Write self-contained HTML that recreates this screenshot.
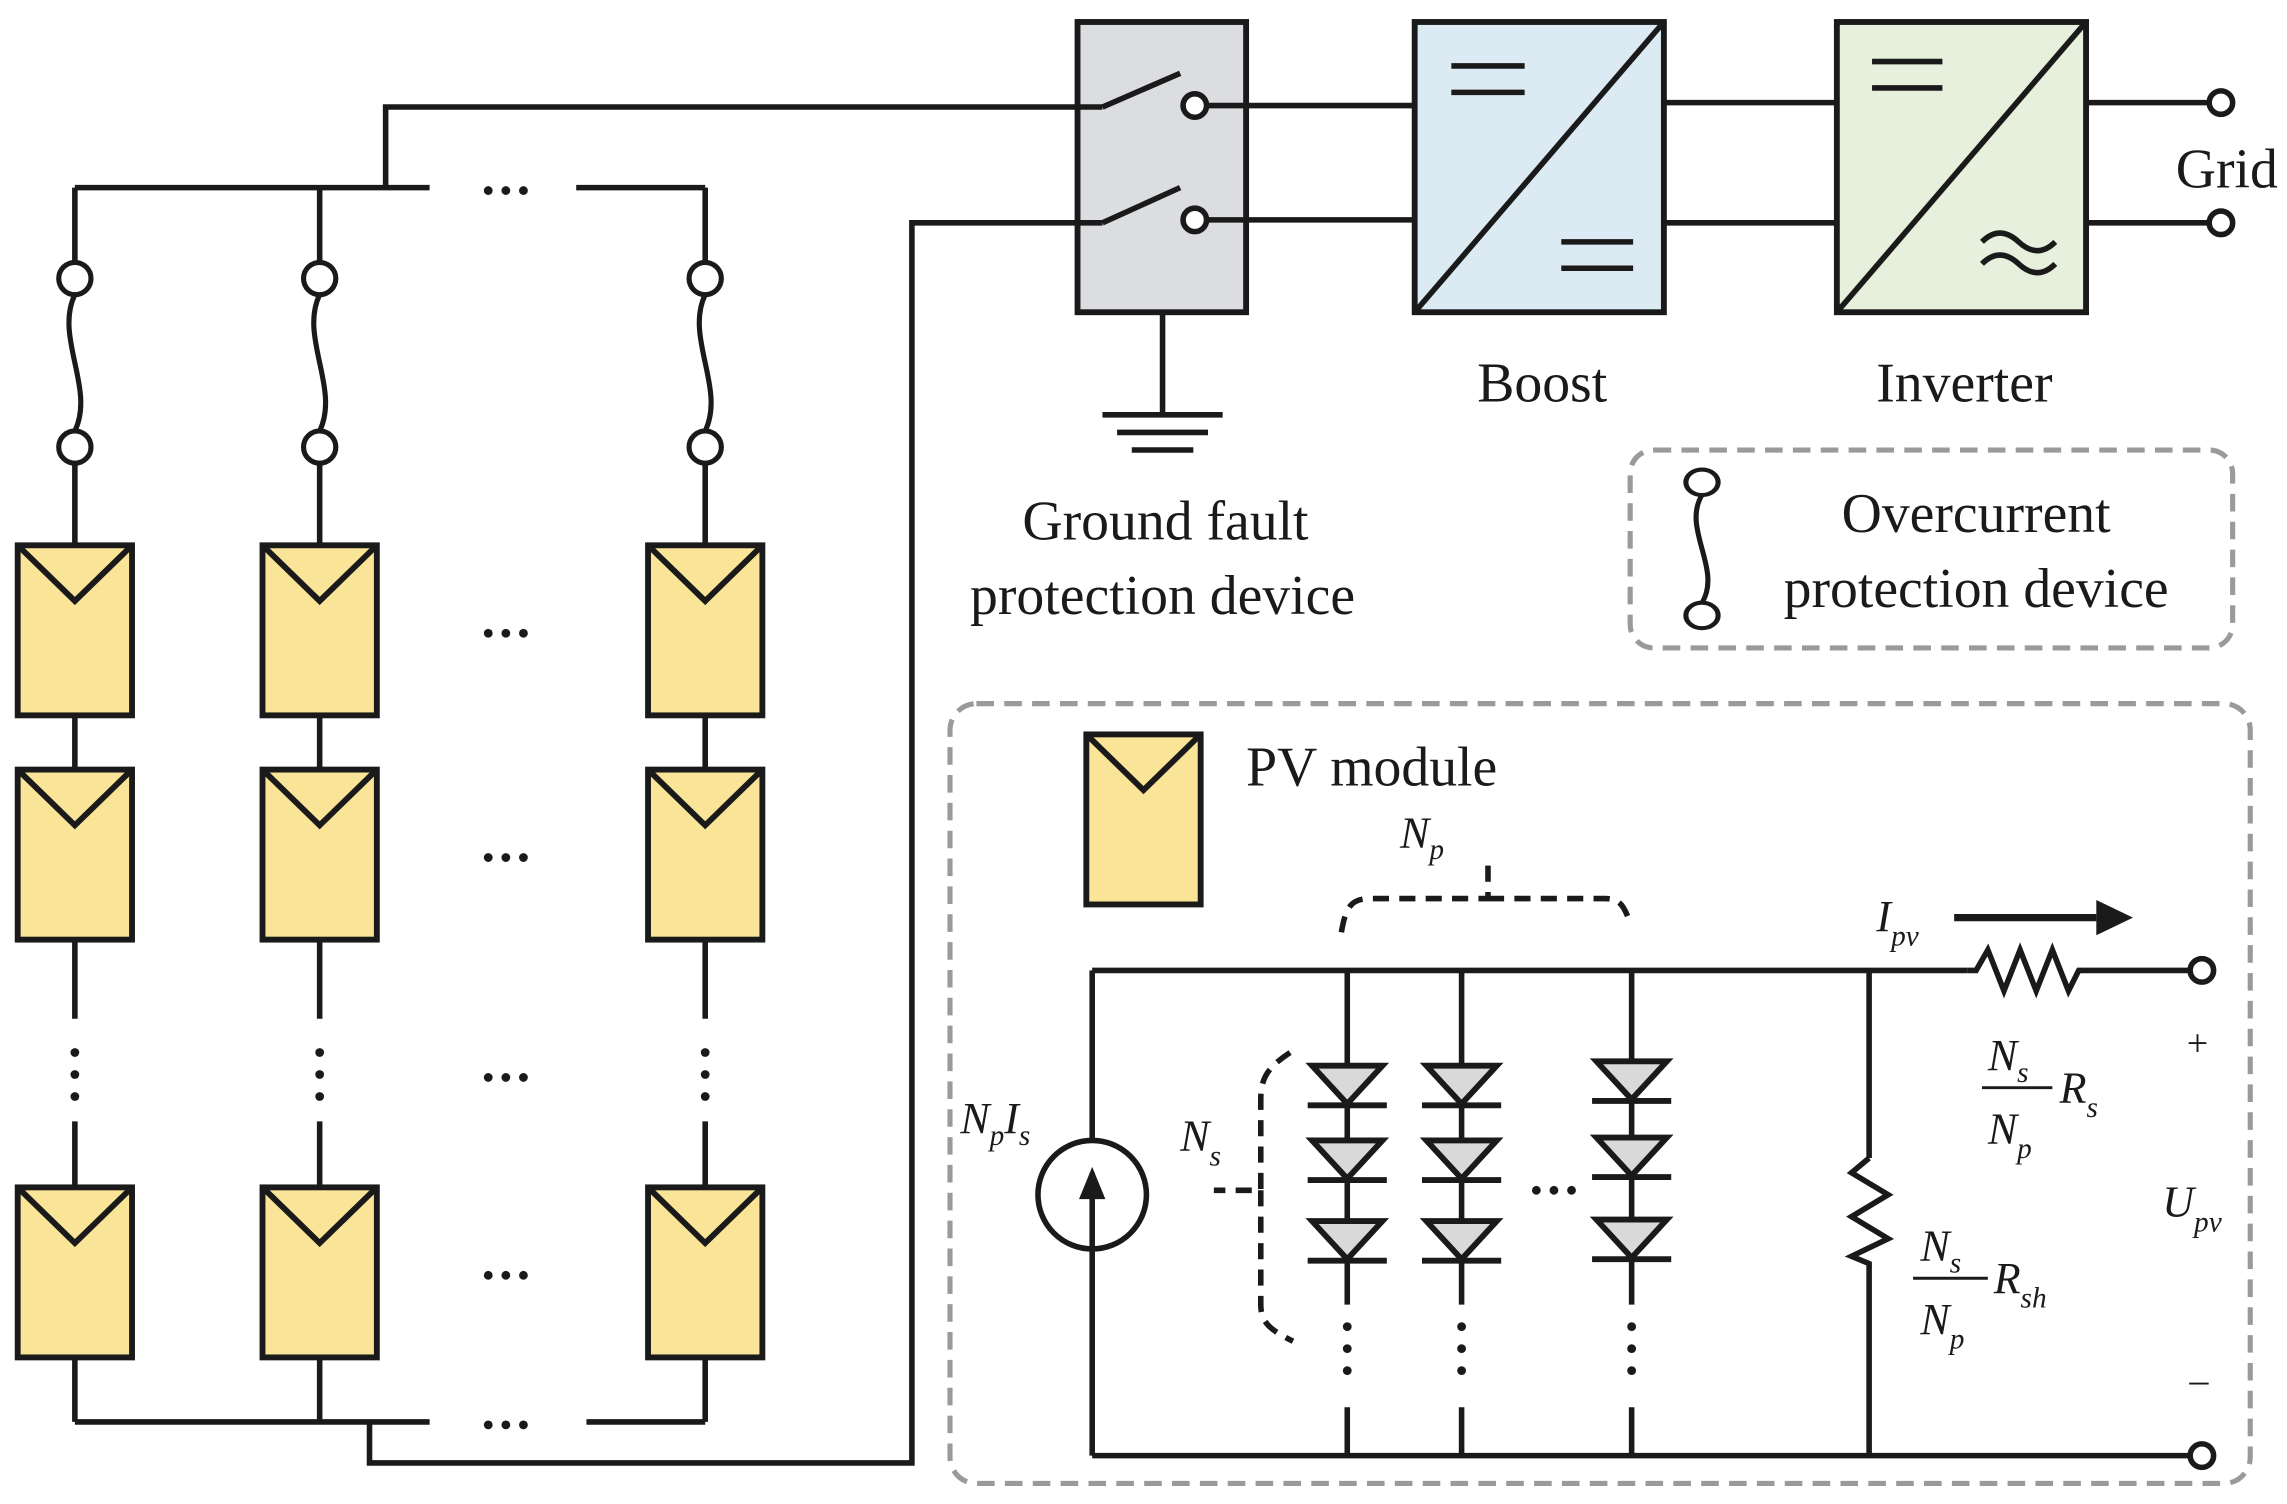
<!DOCTYPE html>
<html><head><meta charset="utf-8"><style>
html,body{margin:0;padding:0;background:#fff}
svg{display:block}
text{font-family:"Liberation Serif",serif;fill:#1a1a1a}
.i{font-style:italic}
</style></head><body>
<svg width="2287" height="1504" viewBox="0 0 1560 1026" xmlns="http://www.w3.org/2000/svg">
<defs>
<g id="mod"><rect x="0" y="0" width="78" height="116" fill="#fae497" stroke="#1a1a1a" stroke-width="4"/><polyline points="0,0 39,38 78,0" fill="none" stroke="#1a1a1a" stroke-width="4"/></g>
<g id="fuse" fill="none" stroke="#1a1a1a" stroke-width="3.5"><circle cx="0" cy="0" r="11" fill="#fff"/><circle cx="0" cy="115" r="11" fill="#fff"/><path d="M0,11 C-14,40 14,75 0,104"/></g>
<g id="dio" stroke="#1a1a1a" stroke-width="4"><polygon points="-24,0 24,0 0,26" fill="#d9d9da" stroke-linejoin="miter"/><line x1="-27" y1="27" x2="27" y2="27"/></g>
<g id="hd"><circle cx="-12" cy="0" r="3"/><circle cx="0" cy="0" r="3"/><circle cx="12" cy="0" r="3"/></g>
<g id="vd"><circle cx="0" cy="-15" r="3"/><circle cx="0" cy="0" r="3"/><circle cx="0" cy="15" r="3"/></g>
</defs>
<g stroke="#1a1a1a" stroke-width="3.8" fill="none">
<line x1="51" y1="128" x2="293" y2="128"/><line x1="393" y1="128" x2="481" y2="128"/>
<polyline points="263,128 263,73 748,73"/>
<polyline points="252,970 252,998 622,998 622,152 748,152"/>
<line x1="51" y1="970" x2="293" y2="970"/><line x1="400" y1="970" x2="481" y2="970"/>
<line x1="51" y1="128" x2="51" y2="180"/><line x1="218" y1="128" x2="218" y2="180"/><line x1="481" y1="128" x2="481" y2="180"/>
<line x1="51" y1="316" x2="51" y2="372"/><line x1="218" y1="316" x2="218" y2="372"/><line x1="481" y1="316" x2="481" y2="372"/>
<line x1="51" y1="488" x2="51" y2="525"/><line x1="218" y1="488" x2="218" y2="525"/><line x1="481" y1="488" x2="481" y2="525"/>
<line x1="51" y1="642" x2="51" y2="695"/><line x1="218" y1="642" x2="218" y2="695"/><line x1="481" y1="642" x2="481" y2="695"/>
<line x1="51" y1="765" x2="51" y2="810"/><line x1="218" y1="765" x2="218" y2="810"/><line x1="481" y1="765" x2="481" y2="810"/>
<line x1="51" y1="927" x2="51" y2="970"/><line x1="218" y1="927" x2="218" y2="970"/><line x1="481" y1="927" x2="481" y2="970"/>
</g>
<use href="#fuse" x="51" y="190"/><use href="#fuse" x="218" y="190"/><use href="#fuse" x="481" y="190"/>
<use href="#mod" x="12" y="372"/><use href="#mod" x="179" y="372"/><use href="#mod" x="442" y="372"/>
<use href="#mod" x="12" y="525"/><use href="#mod" x="179" y="525"/><use href="#mod" x="442" y="525"/>
<use href="#mod" x="12" y="810"/><use href="#mod" x="179" y="810"/><use href="#mod" x="442" y="810"/>
<g fill="#1a1a1a">
<use href="#hd" x="345" y="130"/><use href="#hd" x="345" y="432"/><use href="#hd" x="345" y="585"/><use href="#hd" x="345" y="735"/><use href="#hd" x="345" y="870"/><use href="#hd" x="345" y="972"/>
<use href="#vd" x="51" y="733"/><use href="#vd" x="218" y="733"/><use href="#vd" x="481" y="733"/>
</g>
<!-- ground fault box -->
<rect x="735" y="15" width="115" height="198" fill="#dcdde0" stroke="#1a1a1a" stroke-width="4"/>
<g stroke="#1a1a1a" stroke-width="3.8" fill="none">
<line x1="733" y1="73" x2="752" y2="73"/><line x1="733" y1="152" x2="752" y2="152"/>
<line x1="752" y1="73" x2="805" y2="50"/>
<line x1="752" y1="152" x2="805" y2="128"/>
<circle cx="815" cy="72" r="8" fill="#fff"/><circle cx="815" cy="150" r="8" fill="#fff"/>
<line x1="823" y1="72" x2="965" y2="72"/><line x1="823" y1="150" x2="965" y2="150"/>
<line x1="793" y1="213" x2="793" y2="283"/>
<line x1="752" y1="283" x2="834" y2="283"/><line x1="762" y1="295" x2="824" y2="295"/><line x1="772" y1="307" x2="814" y2="307"/>
</g>
<!-- boost -->
<rect x="965" y="15" width="170" height="198" fill="#dcebf3" stroke="#1a1a1a" stroke-width="4"/>
<g stroke="#1a1a1a" stroke-width="3.8">
<line x1="965" y1="213" x2="1135" y2="15"/>
<line x1="990" y1="45" x2="1040" y2="45"/><line x1="990" y1="63" x2="1040" y2="63"/>
<line x1="1065" y1="165" x2="1114" y2="165"/><line x1="1065" y1="183" x2="1114" y2="183"/>
<line x1="1135" y1="70" x2="1253" y2="70"/><line x1="1135" y1="152" x2="1253" y2="152"/>
</g>
<!-- inverter -->
<rect x="1253" y="15" width="170" height="198" fill="#e6f0dc" stroke="#1a1a1a" stroke-width="4"/>
<g stroke="#1a1a1a" stroke-width="3.8" fill="none">
<line x1="1253" y1="213" x2="1423" y2="15"/>
<line x1="1277" y1="42" x2="1325" y2="42"/><line x1="1277" y1="60" x2="1325" y2="60"/>
<path d="M1352,165 q12,-12 25,0 t25,0"/><path d="M1352,180 q12,-12 25,0 t25,0"/>
<line x1="1423" y1="70" x2="1506" y2="70"/><line x1="1423" y1="152" x2="1506" y2="152"/>
<circle cx="1515" cy="70" r="8" fill="#fff"/><circle cx="1515" cy="152" r="8" fill="#fff"/>
</g>
<text x="1519" y="128" font-size="38" text-anchor="middle">Grid</text>
<text x="1052" y="274" font-size="38" text-anchor="middle">Boost</text>
<text x="1340" y="274" font-size="38" text-anchor="middle">Inverter</text>
<text x="795" y="368" font-size="38" text-anchor="middle">Ground fault</text>
<text x="793" y="419" font-size="38" text-anchor="middle">protection device</text>
<!-- legend -->
<rect x="1112" y="307" width="411" height="135" rx="16" fill="none" stroke="#9a9a9c" stroke-width="3.5" stroke-dasharray="12,7"/>
<use href="#fuse" transform="translate(1161,329) scale(1,0.79)"/>
<text x="1348" y="363" font-size="38" text-anchor="middle">Overcurrent</text>
<text x="1348" y="414" font-size="38" text-anchor="middle">protection device</text>
<!-- big box -->
<rect x="648" y="480" width="887" height="532" rx="18" fill="none" stroke="#9a9a9c" stroke-width="3.5" stroke-dasharray="12,7"/>
<use href="#mod" x="741" y="501"/>
<text x="850" y="536" font-size="38">PV module</text>
<!-- circuit -->
<g stroke="#1a1a1a" stroke-width="3.8" fill="none">
<line x1="745" y1="662" x2="1342" y2="662"/>
<polyline points="1342,662 1348,662 1356,648 1367,676 1378,648 1389,676 1400,648 1411,676 1418,662 1495,662"/>
<circle cx="1502" cy="662" r="8" fill="#fff"/>
<line x1="745" y1="993" x2="1494" y2="993"/>
<circle cx="1502" cy="993" r="8" fill="#fff"/>
<line x1="745" y1="662" x2="745" y2="993"/>
<circle cx="745" cy="815" r="37" fill="#fff"/>
<line x1="745" y1="852" x2="745" y2="800"/>
<line x1="1275" y1="662" x2="1275" y2="790"/>
<polyline points="1275,790 1263,800 1288,815 1263,830 1288,845 1263,857 1275,862 1275,993"/>
<line x1="919" y1="662" x2="919" y2="890"/><line x1="919" y1="960" x2="919" y2="993"/>
<line x1="997" y1="662" x2="997" y2="890"/><line x1="997" y1="960" x2="997" y2="993"/>
<line x1="1113" y1="662" x2="1113" y2="890"/><line x1="1113" y1="960" x2="1113" y2="993"/>
<line x1="1333" y1="626" x2="1430" y2="626" stroke-width="5"/>
<path d="M915,636 C918,618 922,613 935,613 L1015,613 L1015,590 M1015,613 L1095,613 C1105,613 1108,618 1112,630" stroke-dasharray="11,7"/>
<path d="M880,718 C865,728 860,735 860,750 L860,812 L828,812 M860,812 L860,890 C860,902 866,907 882,915" stroke-dasharray="11,7"/>
</g>
<polygon points="1430,614 1455,626 1430,638" fill="#1a1a1a"/>
<polygon points="745,796 736,818 754,818" fill="#1a1a1a"/>
<use href="#dio" x="919" y="727"/><use href="#dio" x="919" y="778"/><use href="#dio" x="919" y="833"/>
<use href="#dio" x="997" y="727"/><use href="#dio" x="997" y="778"/><use href="#dio" x="997" y="833"/>
<use href="#dio" x="1113" y="724"/><use href="#dio" x="1113" y="776"/><use href="#dio" x="1113" y="832"/>
<g fill="#1a1a1a">
<use href="#vd" x="919" y="920"/><use href="#vd" x="997" y="920"/><use href="#vd" x="1113" y="920"/>
<use href="#hd" x="1060" y="812"/>
</g>
<text x="955" y="578" font-size="30" class="i">N<tspan font-size="20" dy="8">p</tspan></text>
<text x="655" y="773" font-size="30" class="i">N<tspan font-size="20" dy="8">p</tspan><tspan dy="-8" font-size="30">I</tspan><tspan font-size="20" dy="8">s</tspan></text>
<text x="805" y="785" font-size="30" class="i">N<tspan font-size="20" dy="10">s</tspan></text>
<text x="1280" y="635" font-size="30" class="i">I<tspan font-size="20" dy="10">pv</tspan></text>
<text x="1356" y="730" font-size="30" class="i">N<tspan font-size="20" dy="8">s</tspan></text>
<line x1="1352" y1="742" x2="1400" y2="742" stroke="#1a1a1a" stroke-width="2"/>
<text x="1356" y="780" font-size="30" class="i">N<tspan font-size="20" dy="10">p</tspan></text>
<text x="1405" y="752" font-size="30" class="i">R<tspan font-size="20" dy="10">s</tspan></text>
<text x="1310" y="860" font-size="30" class="i">N<tspan font-size="20" dy="8">s</tspan></text>
<line x1="1305" y1="872" x2="1356" y2="872" stroke="#1a1a1a" stroke-width="2"/>
<text x="1310" y="910" font-size="30" class="i">N<tspan font-size="20" dy="10">p</tspan></text>
<text x="1360" y="882" font-size="30" class="i">R<tspan font-size="20" dy="10">sh</tspan></text>
<text x="1475" y="830" font-size="30" class="i">U<tspan font-size="20" dy="10">pv</tspan></text>
<text x="1499" y="720" font-size="26" text-anchor="middle">+</text>
<text x="1500" y="950" font-size="26" text-anchor="middle">–</text>
</svg>
</body></html>
